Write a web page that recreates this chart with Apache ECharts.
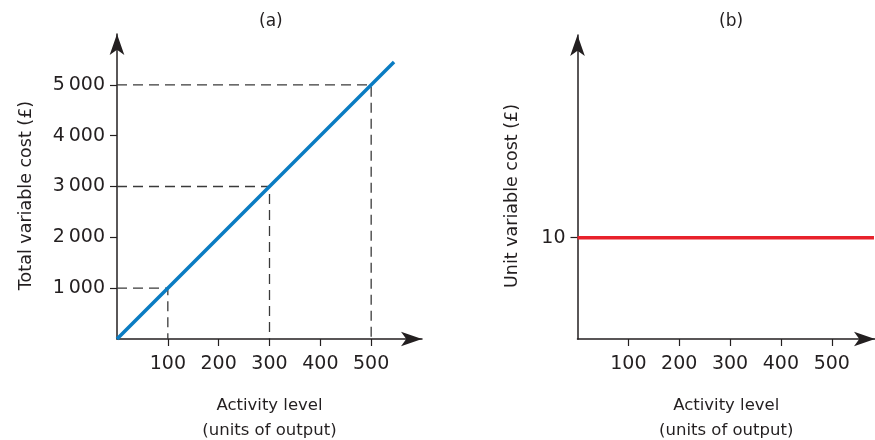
<!DOCTYPE html>
<html><head><meta charset="utf-8">
<script src="https://cdn.jsdelivr.net/npm/echarts@6/dist/echarts.min.js"></script>
<style>html,body{margin:0;padding:0;background:#fff}#c{width:875px;height:440px}</style>
</head><body><div id="c"></div>
<script>
// ---- data ----
const panelTitles = ['(a)', '(b)'];
const xAxisName = 'Activity level\n(units of output)';
const yAxisNameA = 'Total variable cost (£)';
const yAxisNameB = 'Unit variable cost (£)';
const xTicks = [100, 200, 300, 400, 500];
const yTicksA = [1000, 2000, 3000, 4000, 5000];
const yTicksB = [10];
const totalCostLine = [[0, 0], [545, 5450]];
const guidePoints = [[100, 1000], [300, 3000], [500, 5000]];
const unitCostLine = [[0, 10], [583, 10]];

// ---- styles ----
const FONT = 'DejaVu Sans';
const INK = '#231f20';
const fmt = v => String(v).replace(/\B(?=(\d{3})+$)/g, '\u2009');

function xAxis(gridIndex, max) {
  return {
    type: 'value', gridIndex, min: 0, max, interval: 100,
    name: xAxisName, nameLocation: 'middle', nameGap: 54,
    nameTextStyle: { fontFamily: FONT, fontSize: 16.5, color: INK, lineHeight: 25 },
    axisLine: { show: true, symbol: ['none', 'arrow'], symbolSize: [11, 21],
      lineStyle: { color: INK, width: 1.5 } },
    axisTick: { show: true, length: 7, customValues: xTicks, lineStyle: { color: INK, width: 1.2 } },
    axisLabel: { customValues: xTicks, margin: 16, fontFamily: FONT, fontSize: 19, color: INK },
    splitLine: { show: false }
  };
}
function yAxis(gridIndex, max, ticks, name, gap) {
  return {
    type: 'value', gridIndex, min: 0, max,
    name, nameLocation: 'middle', nameGap: gap,
    nameTextStyle: { fontFamily: FONT, fontSize: 17.5, color: INK, padding: [0, 18, 0, 0] },
    axisLine: { show: true, symbol: ['none', 'arrow'], symbolSize: [11, 21],
      lineStyle: { color: INK, width: 1.5 } },
    axisTick: { show: true, length: 7, customValues: ticks, lineStyle: { color: INK, width: 1.2 } },
    axisLabel: { customValues: ticks, margin: 12, fontFamily: FONT, fontSize: 19, color: INK, formatter: fmt },
    splitLine: { show: false }
  };
}

const guideSeries = guidePoints.map(p => ({
  type: 'line', xAxisIndex: 0, yAxisIndex: 0,
  data: [[0, p[1]], [p[0], p[1]], [p[0], 0]],
  symbol: 'none', silent: true, z: 1,
  lineStyle: { color: '#3a3a3a', width: 1.3, type: [10, 6] }
}));

const chart = echarts.init(document.getElementById('c'), null, { renderer: 'canvas' });
chart.setOption({
  animation: false,
  backgroundColor: '#fff',
  title: [
    { text: panelTitles[0], left: 254, top: 8,
      textStyle: { fontFamily: FONT, fontSize: 17, fontWeight: 'normal', color: INK } },
    { text: panelTitles[1], left: 714, top: 8,
      textStyle: { fontFamily: FONT, fontSize: 17, fontWeight: 'normal', color: INK } }
  ],
  grid: [
    { left: 117, top: 34, width: 305, height: 305, outerBoundsMode: 'none', containLabel: false },
    { left: 577.5, top: 35, width: 297.5, height: 304, outerBoundsMode: 'none', containLabel: false }
  ],
  xAxis: [xAxis(0, 600), xAxis(1, 585)],
  yAxis: [
    yAxis(0, 6000, yTicksA, yAxisNameA, 82),
    yAxis(1, 30, yTicksB, yAxisNameB, 56)
  ],
  series: [
    ...guideSeries,
    { type: 'line', xAxisIndex: 0, yAxisIndex: 0, data: totalCostLine, symbol: 'none', z: 3,
      lineStyle: { color: '#0a7cc2', width: 3.5 } },
    { type: 'line', xAxisIndex: 1, yAxisIndex: 1, data: unitCostLine, symbol: 'none', z: 3,
      lineStyle: { color: '#e8212b', width: 3.5 } }
  ]
});
</script></body></html>
